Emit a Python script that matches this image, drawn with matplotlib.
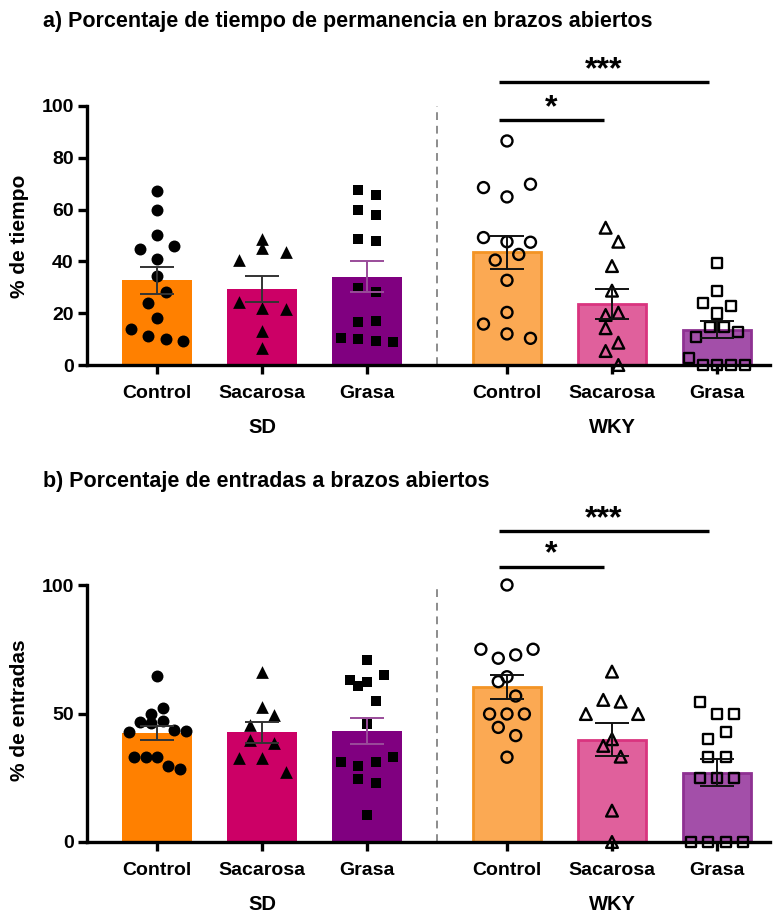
import numpy as np
import matplotlib
matplotlib.use("Agg")
import matplotlib.pyplot as plt

plt.rcParams['font.family'] = ['Liberation Sans', 'DejaVu Sans']
plt.rcParams['font.weight'] = 'bold'

# group / column labels
conditions = ["Control", "Sacarosa", "Grasa"]
strains = ["SD", "WKY"]

# a) % time in open arms (individual animals, per column)
tiempo_sd_control = [13.9, 11.3, 10.2, 9.1, 18.0, 24.1, 28.3, 34.4, 44.7, 41.0, 45.9, 50.1, 60.0, 67.2]
tiempo_sd_sacarosa = [6.4, 13.0, 24.5, 22.1, 21.5, 40.5, 45.0, 43.5, 48.6]
tiempo_sd_grasa = [10.4, 9.9, 9.1, 8.9, 16.7, 17.1, 29.8, 28.3, 48.5, 48.0, 59.8, 58.0, 67.6, 65.6]
tiempo_wky_control = [15.8, 12.0, 10.3, 20.3, 32.7, 40.5, 42.7, 49.2, 47.6, 47.4, 68.5, 64.9, 69.8, 86.5]
tiempo_wky_sacarosa = [5.4, 0.0, 14.2, 8.6, 19.3, 20.2, 28.7, 38.2, 53.0, 47.6]
tiempo_wky_grasa = [2.8, 0.0, 0.0, 0.0, 0.0, 10.9, 14.8, 14.8, 12.9, 23.8, 19.9, 22.8, 28.7, 39.3]

# b) % entries into open arms
entradas_sd_control = [33.0, 33.0, 33.0, 29.7, 28.3, 42.7, 46.6, 46.2, 47.2, 43.6, 43.1, 49.8, 52.0, 64.6]
entradas_sd_sacarosa = [32.6, 32.6, 27.4, 39.7, 38.4, 45.5, 49.4, 52.6, 66.3]
entradas_sd_grasa = [10.7, 24.7, 22.8, 31.2, 29.6, 31.2, 33.0, 45.9, 60.8, 55.0, 63.0, 62.4, 64.9, 70.8]
entradas_wky_control = [33.0, 44.6, 41.4, 49.8, 49.8, 49.8, 62.4, 56.8, 64.3, 75.0, 71.5, 72.8, 75.0, 100.0]
entradas_wky_sacarosa = [0.0, 12.2, 37.4, 33.2, 40.0, 49.8, 55.3, 54.6, 49.8, 66.3]
entradas_wky_grasa = [0.0, 0.0, 0.0, 0.0, 24.8, 24.8, 24.8, 33.2, 33.2, 40.0, 42.9, 54.6, 49.8, 49.8]

panels = [
    dict(title="a) Porcentaje de tiempo de permanencia en brazos abiertos",
         ylabel="% de tiempo", yticks=[0, 20, 40, 60, 80, 100],
         cols=[tiempo_sd_control, tiempo_sd_sacarosa, tiempo_sd_grasa,
               tiempo_wky_control, tiempo_wky_sacarosa, tiempo_wky_grasa],
         sig=[(3, 4, 94.6, "*"), (3, 5, 109.1, "***")]),
    dict(title="b) Porcentaje de entradas a brazos abiertos",
         ylabel="% de entradas", yticks=[0, 50, 100],
         cols=[entradas_sd_control, entradas_sd_sacarosa, entradas_sd_grasa,
               entradas_wky_control, entradas_wky_sacarosa, entradas_wky_grasa],
         sig=[(3, 4, 107.1, "*"), (3, 5, 121.0, "***")]),
]

xpos = np.array([0, 1, 2, 3.333, 4.333, 5.333])
fills = ['#FF8000', '#CC0066', '#800080', '#FBA953', '#E0609C', '#A34FA9']
edges = ['#FF8000', '#CC0066', '#8E3A8E', '#F39425', '#D9347F', '#8E3192']
errcol = ['#333333', '#333333', '#9A4C9A', '#111111', '#111111', '#111111']
markers = ['o', '^', 's', 'o', '^', 's']
msize = {'o': 74, '^': 84, 's': 62}
PX_PER_UNIT = 105.0
# horizontal spacing of points (px) given the widest row in a column
SPACING_PX = {1: 0, 2: 12.7, 3: 23.5, 4: 17.4, 5: 14.0, 6: 11.4}


def spread(values, tol=6.0):
    """Group close values into rows and centre each row around the column."""
    v = np.asarray(values, float)
    order = np.argsort(v, kind='stable')
    rows, cur = [], [order[0]]
    for i in order[1:]:
        if v[i] - v[cur[0]] <= tol:
            cur.append(i)
        else:
            rows.append(cur)
            cur = [i]
    rows.append(cur)
    step = SPACING_PX[max(len(r) for r in rows)] / PX_PER_UNIT
    dx = np.zeros(len(v))
    for r in rows:
        r = sorted(r)
        for k, i in enumerate(r):
            dx[i] = (k - (len(r) - 1) / 2) * step
    return dx


fig = plt.figure(figsize=(7.8, 9.14), dpi=100)
axes_rect = [[87 / 780, 1 - 365 / 914, 683 / 780, 259 / 914],
             [87 / 780, 1 - 842 / 914, 683 / 780, 257 / 914]]
title_y = [1 - 27 / 914, 1 - 487 / 914]
ylabel_y = [1 - 236 / 914, 1 - 710 / 914]

for p, rect, ty, ly in zip(panels, axes_rect, title_y, ylabel_y):
    ax = fig.add_axes(rect)
    means = [np.mean(c) for c in p['cols']]
    sems = [np.std(c, ddof=1) / np.sqrt(len(c)) for c in p['cols']]

    ax.bar(xpos[:3], means[:3], width=0.667, color=fills[:3], zorder=1)
    ax.bar(xpos[3:], means[3:], width=0.64, color=fills[3:], edgecolor=edges[3:],
           linewidth=2, zorder=1)

    for i, col in enumerate(p['cols']):
        x = xpos[i] + spread(col)
        if i < 3:
            ax.scatter(x, col, s=msize[markers[i]], marker=markers[i], color='black',
                       linewidths=0, zorder=3, clip_on=False)
        else:
            ax.scatter(x, col, s=msize[markers[i]] * 0.85, marker=markers[i],
                       facecolors='none', edgecolors='black', linewidths=1.7,
                       zorder=3, clip_on=False)
        ax.errorbar(xpos[i], means[i], yerr=sems[i], fmt='none', ecolor=errcol[i],
                    elinewidth=1.4, capsize=12.5, capthick=1.4, zorder=4)

    ax.axvline(2.667, ymin=0, ymax=1.0, color='#8c8c8c', linestyle=(0, (4, 3)),
               linewidth=1.4, zorder=0)

    for a, b, y, star in p['sig']:
        ax.plot([xpos[a] - 0.08, xpos[b] - 0.08], [y, y], color='black', linewidth=2.4,
                clip_on=False, solid_capstyle='butt')
        ax.annotate(star, xy=((xpos[a] + xpos[b]) / 2 - 0.08, y), xytext=(0, -2),
                    textcoords='offset points', ha='center', va='bottom',
                    fontsize=23, fontweight='bold', annotation_clip=False)

    ax.set_xlim(-0.667, 5.838)
    ax.set_ylim(0, 100)
    ax.set_yticks(p['yticks'])
    ax.set_xticks(xpos, conditions * 2)
    for s in ['top', 'right']:
        ax.spines[s].set_visible(False)
    for s in ['left', 'bottom']:
        ax.spines[s].set_linewidth(2.4)
    ax.tick_params(axis='both', width=2.4, length=6.5, labelsize=14)
    ax.tick_params(axis='x', pad=8)
    ax.tick_params(axis='y', pad=3)

    for j, name in enumerate(strains):
        ax.annotate(name, xy=(xpos[3 * j + 1], 0), xycoords=('data', 'axes fraction'),
                    xytext=(0, -45), textcoords='offset points', ha='center',
                    va='center', fontsize=14.5, fontweight='bold')

    fig.text(43 / 780, ty, p['title'], fontsize=15.5, fontweight='bold', va='baseline')
    fig.text(20 / 780, ly, p['ylabel'], fontsize=15, fontweight='bold', rotation=90,
             ha='center', va='center')

fig.savefig("out.png", dpi=100)
